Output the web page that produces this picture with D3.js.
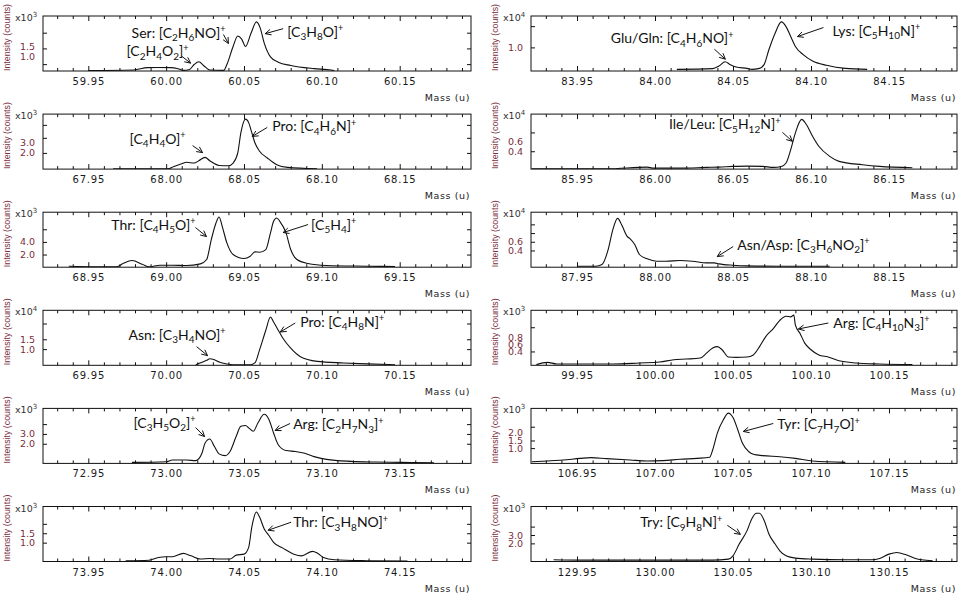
<!DOCTYPE html>
<html>
<head>
<meta charset="utf-8">
<script src="https://cdn.jsdelivr.net/npm/d3@7"></script>
<style>
  body { margin: 0; background: #fff; }
  svg text { font-family: "DejaVu Sans", sans-serif; }
  .ann { font-family: Lato, "Open Sans", sans-serif; font-size: 14px; fill: #111; }
</style>
</head>
<body>
<svg id="chart" width="964" height="597"></svg>
<script>
// spectra: [mass (u), intensity in units of the panel's x10^n]
const serData = [[59.950,0.27],[59.979,0.30],[59.988,0.42],[59.994,0.43],[60.003,0.42],[60.007,0.38],[60.011,0.28],[60.015,0.33],[60.018,0.58],[60.021,0.72],[60.024,0.53],[60.028,0.30],[60.037,0.28],[60.039,0.58],[60.043,1.50],[60.046,2.03],[60.0485,1.87],[60.051,1.50],[60.0545,2.17],[60.058,2.75],[60.0605,2.42],[60.063,1.67],[60.067,0.97],[60.072,0.70],[60.080,0.53],[60.095,0.37],[60.106,0.30],[60.108,0.27]];
const pro68Data = [[67.966,0.53],[68.001,0.53],[68.005,0.75],[68.010,1.0],[68.013,1.13],[68.018,1.06],[68.021,1.28],[68.025,1.59],[68.028,1.28],[68.034,0.84],[68.040,0.81],[68.043,1.06],[68.046,2.0],[68.048,3.88],[68.051,5.13],[68.053,4.81],[68.055,3.88],[68.057,2.94],[68.060,2.16],[68.065,1.53],[68.071,0.91],[68.078,0.66],[68.097,0.53]];
const thr69Data = [[68.9375,0.16],[68.968,0.05],[68.972,0.53],[68.978,1.05],[68.985,0.42],[68.989,0.05],[68.996,0.32],[69.004,0.32],[69.013,0.26],[69.022,0.53],[69.026,1.21],[69.029,4.37],[69.032,7.0],[69.034,7.95],[69.036,6.47],[69.039,3.84],[69.043,2.0],[69.050,1.37],[69.054,1.74],[69.057,2.42],[69.060,2.37],[69.064,2.79],[69.067,5.42],[69.069,7.26],[69.071,7.79],[69.073,7.26],[69.077,5.42],[69.080,2.79],[69.084,1.21],[69.091,0.58],[69.103,0.26],[69.129,0.16],[69.147,0.10]];
const pro70Data = [[70.019,0.21],[70.023,0.33],[70.026,0.43],[70.028,0.51],[70.031,0.46],[70.034,0.35],[70.039,0.25],[70.043,0.21],[70.054,0.21],[70.057,0.30],[70.060,0.96],[70.064,1.96],[70.067,2.63],[70.069,2.38],[70.072,1.96],[70.075,1.55],[70.080,1.05],[70.086,0.63],[70.097,0.38],[70.114,0.30],[70.129,0.25],[70.147,0.21]];
const arg73Data = [[72.978,0.10],[73.000,0.17],[73.004,0.34],[73.013,0.34],[73.019,0.28],[73.023,1.03],[73.025,2.07],[73.028,2.48],[73.031,1.72],[73.034,0.97],[73.038,0.79],[73.041,1.21],[73.045,2.76],[73.048,3.79],[73.051,3.86],[73.053,3.62],[73.056,3.28],[73.059,4.14],[73.063,5.0],[73.066,4.48],[73.069,3.10],[73.072,1.90],[73.077,1.31],[73.083,1.21],[73.089,1.03],[73.095,0.69],[73.103,0.41],[73.119,0.21],[73.134,0.14],[73.151,0.10],[73.172,0.07]];
const thr74Data = [[73.974,0.04],[73.989,0.07],[73.995,0.21],[74.000,0.25],[74.004,0.25],[74.011,0.43],[74.016,0.30],[74.022,0.13],[74.028,0.16],[74.034,0.13],[74.041,0.13],[74.045,0.34],[74.050,0.39],[74.053,0.75],[74.055,1.82],[74.058,2.63],[74.060,2.36],[74.063,1.73],[74.066,1.38],[74.069,1.02],[74.075,0.71],[74.082,0.39],[74.087,0.30],[74.094,0.54],[74.097,0.45],[74.101,0.21],[74.108,0.09],[74.129,0.04],[74.155,0.02]];
const lysData = [[84.014,0.07],[84.037,0.10],[84.041,0.21],[84.045,0.39],[84.048,0.28],[84.052,0.17],[84.059,0.11],[84.062,0.07],[84.067,0.11],[84.070,0.28],[84.073,0.90],[84.077,1.60],[84.081,2.08],[84.084,1.88],[84.087,1.46],[84.090,1.04],[84.095,0.69],[84.101,0.42],[84.110,0.24],[84.122,0.11],[84.136,0.07]];
const ileLeuData = [[85.921,0.027],[85.969,0.027],[85.995,0.063],[85.999,0.041],[86.016,0.041],[86.033,0.056],[86.041,0.063],[86.050,0.077],[86.059,0.084],[86.069,0.077],[86.076,0.056],[86.081,0.077],[86.084,0.149],[86.087,0.434],[86.090,0.791],[86.094,1.077],[86.097,0.97],[86.101,0.72],[86.105,0.506],[86.112,0.291],[86.118,0.184],[86.133,0.113],[86.144,0.077],[86.165,0.049]];
const asnAspData = [[87.950,0.038],[87.962,0.038],[87.966,0.077],[87.970,0.423],[87.973,0.884],[87.976,1.138],[87.979,0.961],[87.982,0.73],[87.984,0.669],[87.987,0.538],[87.990,0.307],[87.995,0.207],[88.001,0.153],[88.007,0.153],[88.016,0.169],[88.024,0.153],[88.033,0.115],[88.038,0.115],[88.041,0.092],[88.050,0.061],[88.059,0.046],[88.080,0.038],[88.112,0.038]];
const arg100Data = [[99.924,0.02],[99.931,0.086],[99.937,0.038],[99.952,0.038],[99.973,0.038],[99.990,0.067],[100.003,0.095],[100.012,0.16],[100.020,0.18],[100.029,0.21],[100.033,0.35],[100.037,0.50],[100.040,0.54],[100.043,0.45],[100.047,0.24],[100.052,0.23],[100.059,0.24],[100.063,0.30],[100.067,0.54],[100.071,0.83],[100.076,1.07],[100.080,1.30],[100.084,1.42],[100.087,1.40],[100.089,1.45],[100.090,1.16],[100.093,0.92],[100.096,0.64],[100.100,0.45],[100.105,0.30],[100.111,0.24],[100.118,0.13],[100.129,0.067],[100.144,0.038],[100.165,0.02]];
const tyrData = [[106.921,0.11],[106.931,0.16],[106.941,0.22],[106.952,0.33],[106.959,0.38],[106.969,0.31],[106.984,0.22],[106.995,0.16],[107.005,0.18],[107.016,0.27],[107.027,0.33],[107.035,0.40],[107.037,0.89],[107.040,2.0],[107.044,2.89],[107.047,3.29],[107.050,3.0],[107.053,2.22],[107.056,1.33],[107.060,0.78],[107.063,0.60],[107.069,0.51],[107.080,0.44],[107.090,0.33],[107.101,0.16],[107.122,0.07]];
const tryData = [[129.935,0.04],[129.952,0.0],[129.995,0.0],[130.037,0.0],[130.047,0.12],[130.050,0.52],[130.054,1.92],[130.059,3.52],[130.062,4.92],[130.065,5.6],[130.067,5.6],[130.070,4.72],[130.073,3.12],[130.077,1.92],[130.080,1.12],[130.084,0.52],[130.090,0.24],[130.101,0.12],[130.122,0.04],[130.139,0.04],[130.144,0.2],[130.150,0.72],[130.155,0.92],[130.161,0.64],[130.167,0.2],[130.171,0.04],[130.178,-0.08]];

// first labelled mass tick of each panel (left column top to bottom, then right column)
const massBases = [59.95, 67.95, 68.95, 69.95, 72.95, 73.95, 83.95, 85.95, 87.95, 99.95, 106.95, 129.95];
const exponents = [3, 3, 3, 4, 3, 3, 4, 4, 4, 3, 3, 3];
const yDomains = [[0.25,3.05],[0.5,5.6],[0,8.7],[0.18,2.97],[0,5.6],[0,2.92],[0,2.33],[0.02,1.19],[0.015,1.28],[0,1.59],[0,3.6],[-0.16,6.4]];
const yLabels = [[1.0,1.5],[2.0,3.0],[2.0,4.0],[1.0,1.5],[2.0,3.0],[1.0,1.5],[1.0],[0.4,0.6],[0.4,0.6],[0.4,0.6,0.8],[1.0,1.5,2.0],[2.0,3.0]];
const yTicks = [[0.6,1.4,2.2],[2.0,3.4,4.6],[2,4,6],[1.0,1.5,2.3],[2,3,4],[1,1.5,2],[1.0,1.9],[0.4,0.8],[0.4,0.6,0.8,1.0],[0.4,1.1],[1.0,1.5,2.4],[2,3,4]];
const spectra = [serData, pro68Data, thr69Data, pro70Data, arg73Data, thr74Data, lysData, ileLeuData, asnAspData, arg100Data, tyrData, tryData];

const annotations = [
  {panel: 0, label: "Ser: [C_2H_6NO]^+", tip: [60.0400, 1.65]},
  {panel: 0, label: "[C_3H_8O]^+", tip: [60.0636, 2.15]},
  {panel: 0, label: "[C_2H_4O_2]^+", tip: [60.0157, 0.65]},
  {panel: 1, label: "[C_4H_4O]^+", tip: [68.0234, 2.03]},
  {panel: 1, label: "Pro: [C_4H_6N]^+", tip: [68.0553, 3.53]},
  {panel: 2, label: "Thr: [C_4H_5O]^+", tip: [69.0259, 4.85]},
  {panel: 2, label: "[C_5H_4]^+", tip: [69.0751, 5.48]},
  {panel: 3, label: "Asn: [C_3H_4NO]^+", tip: [70.0266, 0.67]},
  {panel: 3, label: "Pro: [C_4H_8N]^+", tip: [70.0733, 1.87]},
  {panel: 4, label: "[C_3H_5O_2]^+", tip: [73.0247, 2.73]},
  {panel: 4, label: "Arg: [C_2H_7N_3]^+", tip: [73.0700, 3.35]},
  {panel: 5, label: "Thr: [C_3H_8NO]^+", tip: [74.0655, 1.66]},
  {panel: 6, label: "Glu/Gln: [C_4H_6NO]^+", tip: [84.0451, 0.50]},
  {panel: 6, label: "Lys: [C_5H_10N]^+", tip: [84.0913, 1.46]},
  {panel: 7, label: "Ile/Leu: [C_5H_12N]^+", tip: [86.0881, 0.61]},
  {panel: 8, label: "Asn/Asp: [C_3H_6NO_2]^+", tip: [88.0399, 0.26]},
  {panel: 9, label: "Arg: [C_4H_10N_3]^+", tip: [100.0919, 1.05]},
  {panel: 10, label: "Tyr: [C_7H_7O]^+", tip: [107.0566, 2.09]},
  {panel: 11, label: "Try: [C_9H_8N]^+", tip: [130.0547, 3.08]}
];
// arrow tail offset from tip, label offset from tail, label anchor
const annotLayout = [
  [-5,-9, 2,-2,"end"], [18,-5, 4,3,"start"], [-9,-7, 7,-5,"end"],
  [-10,-7, -7,-7,"end"], [15,-9, 5,-1,"start"],
  [-11,-9, 0,-3,"end"], [25,-8, 3,0,"start"],
  [-11,-9, 29,-12,"end"], [15,-9, 5,-1,"start"],
  [-9,-9, 0,-5,"end"], [15,-7, 3,1,"start"],
  [23,-8, 2,0,"start"],
  [-11,-10, 19,-11,"end"], [26,-9, 9,3,"start"],
  [-10,-9, -2,-8,"end"],
  [16,-10, 4,-2,"start"],
  [30,-6, 5,0,"start"],
  [30,-8, 4,1,"start"],
  [-13,-9, -5,-3,"end"]
];

const svg = d3.select("#chart");
const colX = [[43, 471], [531, 957]];
const colSpan = [[-0.0291, 0.2458], [-0.0295, 0.2436]];
const plotH = 55;
const rowTop = r => 16 + r * 98.1;
const axisColor = "#7a2e3e";

const scales = [];

spectra.forEach((data, i) => {
  const col = i < 6 ? 0 : 1, row = i % 6;
  const [x0, x1] = colX[col];
  const y0 = rowTop(row), y1 = y0 + plotH;
  const base = massBases[i];
  const dom = [base + colSpan[col][0], base + colSpan[col][1]];
  const x = d3.scaleLinear().domain(dom).range([x0, x1]);
  const y = d3.scaleLinear().domain(yDomains[i]).range([y1, y0]);
  scales.push({x, y});

  const g = svg.append("g");

  g.append("clipPath").attr("id", "clip" + i)
    .append("rect").attr("x", x0).attr("y", y0).attr("width", x1 - x0).attr("height", plotH);

  // mass ticks
  const major = d3.range(5).map(k => +(base + k * 0.05).toFixed(2));
  const minor = d3.range(-3, 26).map(k => +(base + k * 0.01).toFixed(2))
    .filter(v => v > dom[0] && v < dom[1] && !major.includes(v));

  g.append("g")
    .attr("transform", `translate(0,${y1})`)
    .call(d3.axisBottom(x).tickValues(major).tickSize(-5).tickPadding(7).tickFormat(d3.format(".2f")))
    .call(a => a.select(".domain").remove())
    .call(a => a.selectAll("text").attr("fill", "#1a1a1a").style("font-size", "10px").style("letter-spacing", "0.8px"));
  g.append("g")
    .attr("transform", `translate(0,${y1})`)
    .call(d3.axisBottom(x).tickValues(minor).tickSize(-3).tickFormat(""))
    .call(a => a.select(".domain").remove());
  g.append("g")
    .attr("transform", `translate(0,${y0})`)
    .call(d3.axisTop(x).tickValues(major).tickSize(-5).tickFormat(""))
    .call(a => a.select(".domain").remove());
  g.append("g")
    .attr("transform", `translate(0,${y0})`)
    .call(d3.axisTop(x).tickValues(minor).tickSize(-3).tickFormat(""))
    .call(a => a.select(".domain").remove());

  // intensity ticks
  g.append("g")
    .attr("transform", `translate(${x0},0)`)
    .call(d3.axisLeft(y).tickValues(yTicks[i]).tickSize(-4).tickFormat(""))
    .call(a => a.select(".domain").remove());
  g.append("g")
    .attr("transform", `translate(${x1},0)`)
    .call(d3.axisRight(y).tickValues(yTicks[i]).tickSize(-4).tickFormat(""))
    .call(a => a.select(".domain").remove());
  g.append("g")
    .attr("transform", `translate(${x0},0)`)
    .call(d3.axisLeft(y).tickValues(yLabels[i]).tickSize(0).tickPadding(8).tickFormat(d3.format(".1f")))
    .call(a => a.select(".domain").remove())
    .call(a => a.selectAll("text").attr("fill", axisColor).style("font-size", "9.5px"));

  g.selectAll(".tick line").attr("stroke", "#111");

  // spectrum
  g.append("path")
    .datum(data)
    .attr("clip-path", `url(#clip${i})`)
    .attr("fill", "none")
    .attr("stroke", "#111")
    .attr("stroke-width", 1.1)
    .attr("d", d3.line().curve(d3.curveMonotoneX).x(d => x(d[0])).y(d => y(d[1])));

  // frame
  g.append("rect")
    .attr("x", x0).attr("y", y0).attr("width", x1 - x0).attr("height", plotH)
    .attr("fill", "none").attr("stroke", "#111").attr("stroke-width", 1);

  // exponent
  const ex = g.append("text")
    .attr("x", x0 - 28).attr("y", y0 + 5)
    .attr("fill", "#333").style("font-size", "9.5px")
    .text("x10");
  ex.append("tspan").attr("dy", -4).style("font-size", "7px").text(exponents[i]);

  // axis titles
  g.append("text")
    .attr("transform", `translate(${x0 - 36},${y1}) rotate(-90)`)
    .attr("dy", "0.35em")
    .attr("fill", axisColor)
    .style("font-family", "'Liberation Sans', Arial, sans-serif")
    .style("font-size", "8.8px")
    .text("Intensity (counts)");
  g.append("text")
    .attr("x", x1 - 1).attr("y", y1 + 30)
    .attr("text-anchor", "end")
    .attr("fill", "#222").style("font-size", "9.5px").style("letter-spacing", "0.6px")
    .text("Mass (u)");
});

function richText(sel, str) {
  const parts = str.match(/_\d+|\^\+|[^_^]+/g);
  let shift = 0;
  parts.forEach(s => {
    let t = s, dy, size = null;
    if (s[0] === "_") { t = s.slice(1); dy = 3.5 - shift; shift = 3.5; size = "10px"; }
    else if (s[0] === "^") { t = s.slice(1); dy = -5.5 - shift; shift = -5.5; size = "9px"; }
    else { dy = -shift; shift = 0; }
    sel.append("tspan").attr("dy", dy).style("font-size", size).text(t);
  });
}

annotations.forEach((a, k) => {
  const {x, y} = scales[a.panel];
  const [tdx, tdy, gx, gy, anchor] = annotLayout[k];
  const px = x(a.tip[0]), py = y(a.tip[1]);
  const tx = px + tdx, ty = py + tdy;
  const ang = Math.atan2(ty - py, tx - px);
  const L = 6.5, spread = 0.45;
  const h1 = [px + L * Math.cos(ang + spread), py + L * Math.sin(ang + spread)];
  const h2 = [px + L * Math.cos(ang - spread), py + L * Math.sin(ang - spread)];
  svg.append("path")
    .attr("d", `M${tx},${ty}L${px},${py}M${h1[0]},${h1[1]}L${px},${py}L${h2[0]},${h2[1]}`)
    .attr("fill", "none").attr("stroke", "#111").attr("stroke-width", 1);
  const t = svg.append("text")
    .attr("class", "ann")
    .attr("x", tx + gx).attr("y", ty + gy + 5)
    .attr("text-anchor", anchor);
  richText(t, a.label);
});
</script>
</body>
</html>
